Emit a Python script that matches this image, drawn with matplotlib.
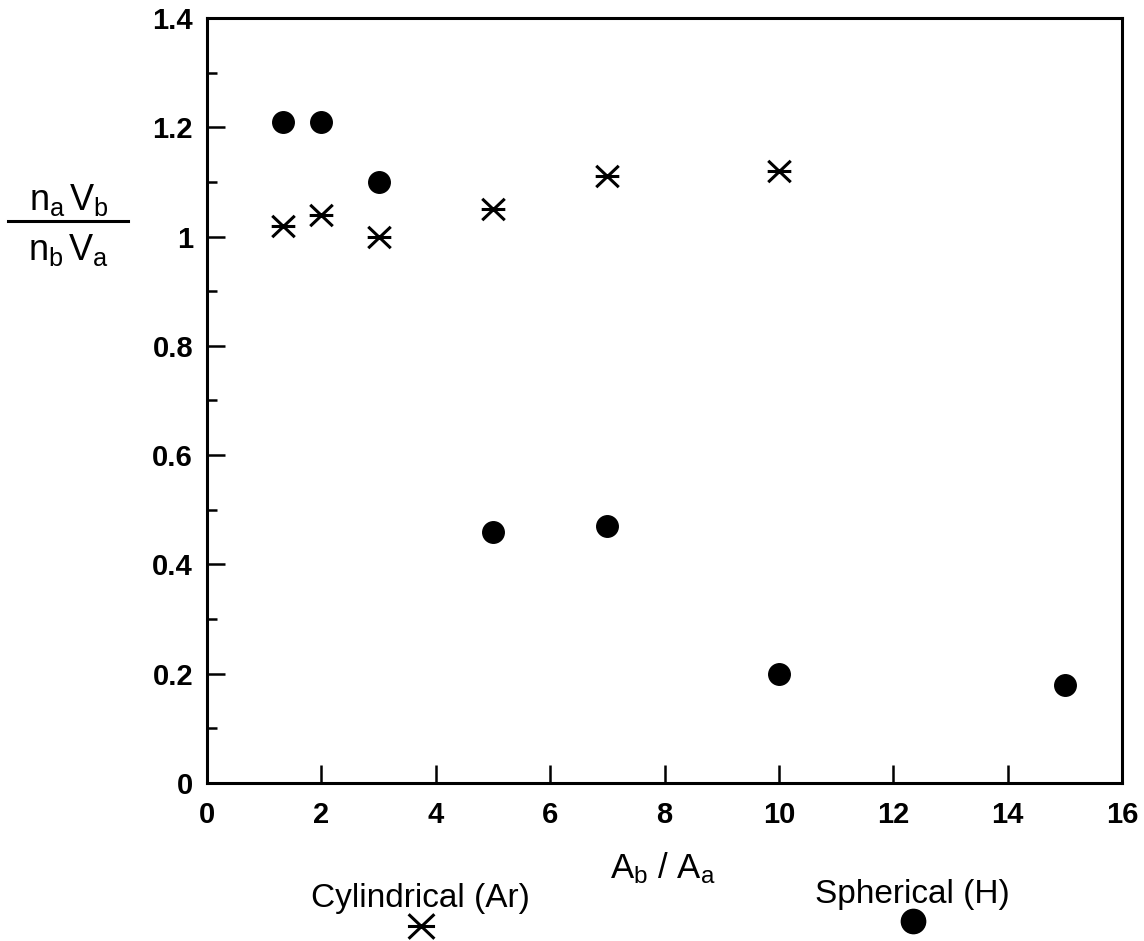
import numpy as np
import matplotlib
matplotlib.use('Agg')
import matplotlib.pyplot as plt
from matplotlib.path import Path
from matplotlib.lines import Line2D

plt.rcParams['font.family'] = ['Liberation Sans', 'DejaVu Sans']
plt.rcParams['mathtext.fontset'] = 'custom'
plt.rcParams['mathtext.rm'] = 'Liberation Sans'
plt.rcParams['mathtext.it'] = 'Liberation Sans'

# area ratio A_b/A_a
cyl_x = [1.33, 2, 3, 5, 7, 10]
cyl_y = [1.02, 1.04, 1.00, 1.05, 1.11, 1.12]
sph_x = [1.33, 2, 3, 5, 7, 10, 15]
sph_y = [1.21, 1.21, 1.10, 0.46, 0.47, 0.20, 0.18]

# X with a horizontal bar
star = Path([(-1, -0.95), (1, 0.95), (-1, 0.95), (1, -0.95), (-1.05, 0), (1.05, 0)],
            [Path.MOVETO, Path.LINETO, Path.MOVETO, Path.LINETO, Path.MOVETO, Path.LINETO])

fig = plt.figure(figsize=(11.44, 9.41), dpi=100)
ax = fig.add_axes([207 / 1144, 1 - 783 / 941, 915 / 1144, 765 / 941])

ax.plot(cyl_x, cyl_y, ls='none', marker=star, ms=17, mew=2.2, mfc='none', mec='black')
ax.plot(sph_x, sph_y, ls='none', marker='o', ms=15.5, color='black')

ax.set_xlim(0, 16)
ax.set_ylim(0, 1.4)
ax.set_xticks(range(0, 17, 2))
ax.set_yticks([0, 0.2, 0.4, 0.6, 0.8, 1.0, 1.2, 1.4])
ax.set_yticklabels(['0', '0.2', '0.4', '0.6', '0.8', '1', '1.2', '1.4'])
ax.set_yticks(np.arange(0.1, 1.4, 0.2), minor=True)
ax.tick_params(axis='both', which='major', direction='in', length=13, width=1.8,
               labelsize=21, top=False, right=False)
ax.tick_params(axis='y', which='minor', direction='in', length=7, width=1.8, right=False)
ax.tick_params(axis='x', pad=13)
ax.tick_params(axis='y', pad=10)
for lab in ax.get_xticklabels() + ax.get_yticklabels():
    lab.set_fontweight('bold')
for sp in ax.spines.values():
    sp.set_linewidth(2.2)

# x label
fig.text(663 / 1144, 1 - 878 / 941, r'A$_\mathrm{b}$ / A$_\mathrm{a}$', fontsize=25,
         ha='center', va='baseline')

# y label as a fraction
fig.text(69 / 1144, 1 - 210 / 941, r'n$_\mathrm{a}\,$V$_\mathrm{b}$', fontsize=26,
         ha='center', va='baseline')
fig.text(69 / 1144, 1 - 260 / 941, r'n$_\mathrm{b}\,$V$_\mathrm{a}$', fontsize=26,
         ha='center', va='baseline')
fig.add_artist(Line2D([8 / 1144, 128 / 1144], [1 - 221 / 941, 1 - 221 / 941],
                      transform=fig.transFigure, color='black', lw=2.2))

# legend-like annotations
fig.text(420 / 1144, 1 - 907 / 941, 'Cylindrical (Ar)', fontsize=24, ha='center', va='baseline')
fig.add_artist(Line2D([421 / 1144], [1 - 926 / 941], transform=fig.transFigure,
                      marker=star, ms=19.5, mew=2.2, mfc='none', mec='black', ls='none'))
fig.text(912 / 1144, 1 - 903 / 941, 'Spherical (H)', fontsize=24, ha='center', va='baseline')
fig.add_artist(Line2D([913 / 1144], [1 - 921 / 941], transform=fig.transFigure,
                      marker='o', ms=17.5, color='black', ls='none'))

fig.savefig('out.png', dpi=100)
